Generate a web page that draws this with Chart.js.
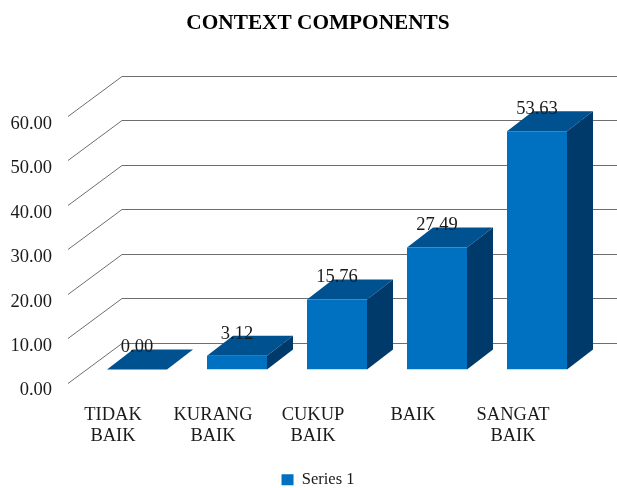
<!DOCTYPE html>
<html>
<head>
<meta charset="utf-8">
<title>Context Components</title>
<script src="https://cdn.jsdelivr.net/npm/chart.js@4"></script>
<style>
  html, body { margin: 0; padding: 0; background: #fff; }
  #box { width: 617px; height: 488px; }
  /* the source picture is a soft scan */
  #contextChart { filter: blur(0.5px); }
</style>
</head>
<body>
<div id="box"><canvas id="contextChart"></canvas></div>
<script>
// chart data
var categories = [["TIDAK", "BAIK"], ["KURANG", "BAIK"], ["CUKUP", "BAIK"], ["BAIK"], ["SANGAT", "BAIK"]];
var seriesName = "Series 1";
var seriesValues = [0.00, 3.12, 15.76, 27.49, 53.63];
var axisMax = 60;
var axisStep = 10;

var serif = "'Liberation Serif', 'Times New Roman', serif";
var textColor = "#1a1a1a";

// fake 3D look, the bars are normal Chart.js bars and this adds the rest
var depth3d = {
  id: "depth3d",
  afterLayout: function (chart) {
    // tick labels sit left of the padding, scale clips to its own left edge
    chart.scales.y.left = 0;
  },
  beforeDatasetsDraw: function (chart) {
    var ctx = chart.ctx;
    var y = chart.scales.y;

    // walls: diagonal on the left side then the back line
    ctx.save();
    ctx.strokeStyle = "#6e6e6e";
    ctx.lineWidth = 1;
    y.ticks.forEach(function (tick) {
      var py = Math.round(y.getPixelForValue(tick.value));
      ctx.beginPath();
      ctx.moveTo(68, py + 13.5);
      ctx.lineTo(122, py - 26.5);
      ctx.lineTo(chart.width, py - 26.5);
      ctx.stroke();
    });

    // top and side of every bar
    chart.getDatasetMeta(0).data.forEach(function (bar) {
      var left = bar.x - bar.width / 2;
      var right = bar.x + bar.width / 2;
      ctx.fillStyle = "#00518f";
      ctx.beginPath();
      ctx.moveTo(left, bar.y);
      ctx.lineTo(left + 26, bar.y - 20);
      ctx.lineTo(right + 26, bar.y - 20);
      ctx.lineTo(right, bar.y);
      ctx.closePath();
      ctx.fill();
      ctx.fillStyle = "#003a6b";
      ctx.beginPath();
      ctx.moveTo(right, bar.y);
      ctx.lineTo(right + 26, bar.y - 20);
      ctx.lineTo(right + 26, bar.base - 20);
      ctx.lineTo(right, bar.base);
      ctx.closePath();
      ctx.fill();
    });
    ctx.restore();
  },
  afterDatasetsDraw: function (chart) {
    // value labels
    var ctx = chart.ctx;
    ctx.save();
    ctx.font = "18.5px " + serif;
    ctx.fillStyle = textColor;
    ctx.textAlign = "center";
    ctx.textBaseline = "middle";
    chart.getDatasetMeta(0).data.forEach(function (bar, i) {
      ctx.fillText(seriesValues[i].toFixed(2), bar.x, bar.y - 22);
    });
    ctx.restore();
  }
};

var contextChart = new Chart(document.getElementById("contextChart"), {
  type: "bar",
  data: {
    labels: categories,
    datasets: [{
      label: seriesName,
      data: seriesValues,
      backgroundColor: "#0070c0",
      barPercentage: 0.6,
      categoryPercentage: 1
    }]
  },
  options: {
    responsive: true,
    maintainAspectRatio: false,
    animation: false,
    // left padding keeps title and legend centred like the original
    layout: { padding: { left: 49, right: 30, bottom: -10 } },
    scales: {
      x: {
        grid: { display: false },
        border: { display: false },
        ticks: {
          color: textColor,
          font: { family: serif, size: 18.5, lineHeight: 1.13 },
          padding: 27,
          labelOffset: -24,
          maxRotation: 0
        },
        afterFit: function (scale) { scale.height = 102; }
      },
      y: {
        min: 0,
        max: axisMax,
        grid: { display: false },
        border: { display: false },
        ticks: {
          stepSize: axisStep,
          color: textColor,
          font: { family: serif, size: 18.5 },
          padding: 27,
          labelOffset: 21,
          callback: function (value) { return value.toFixed(2); }
        },
        afterFit: function (scale) { scale.width = 38; }
      }
    },
    plugins: {
      title: {
        display: true,
        text: "CONTEXT COMPONENTS",
        color: "#000",
        font: { family: serif, size: 21.3, weight: "bold", lineHeight: 1.2 },
        padding: { top: 11, bottom: 66.5 }
      },
      legend: {
        position: "bottom",
        labels: {
          color: textColor,
          font: { family: serif, size: 16.5 },
          boxWidth: 12,
          boxHeight: 11,
          padding: 0
        }
      },
      tooltip: { enabled: false }
    }
  },
  plugins: [depth3d]
});
</script>
</body>
</html>
